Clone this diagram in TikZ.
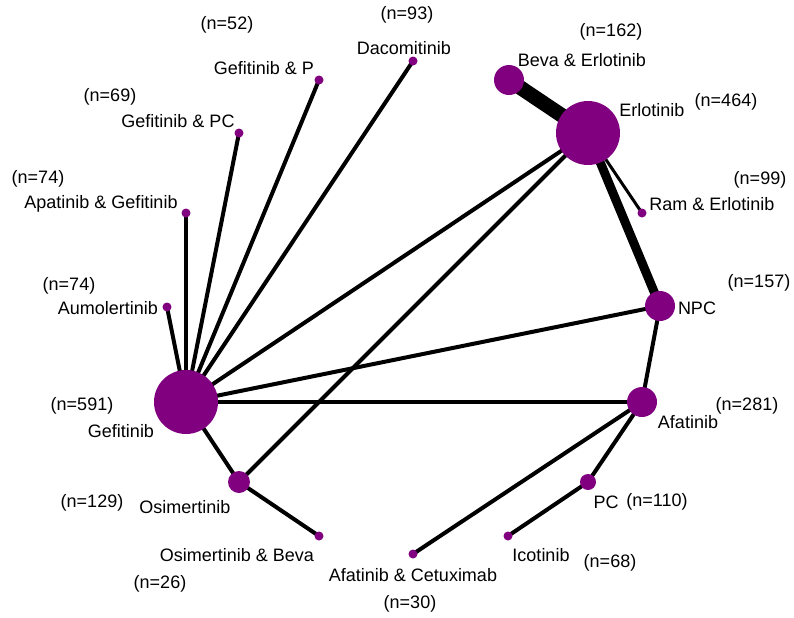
\documentclass[tikz,border=0pt]{standalone}
\usepackage{fontspec}
\setmainfont{Liberation Sans}
\usetikzlibrary{backgrounds}
\definecolor{netpurple}{RGB}{128,0,128}
\tikzset{
  drug/.style={circle,fill=netpurple,inner sep=0pt,minimum size=#1},
  drug/.default=6.75pt,
  lbl/.style={font=\fontsize{13.5}{16}\selectfont,inner sep=0pt},
  link/.style={line width=#1},
  link/.default=3pt
}

\begin{document}
\begin{tikzpicture}[x=0.75pt,y=-0.75pt]
\useasboundingbox (0,0) rectangle (794,618);
% treatments
\node[drug=48pt] (gef) at (186,402) {};
\node[drug=48pt] (erl) at (588,133) {};
\node[drug=22.5pt] (beva) at (509,80) {};
\node[drug=22.5pt] (npc) at (660,306) {};
\node[drug=22.5pt] (afa) at (642,402) {};
\node[drug=16.5pt] (osi) at (239,482) {};
\node[drug=12pt] (pc) at (588,482) {};
\node[drug] (ram) at (642,213) {};
\node[drug] (dac) at (413,61) {};
\node[drug] (gefp) at (319,80) {};
\node[drug] (gefpc) at (239,133) {};
\node[drug] (apa) at (186,213) {};
\node[drug] (aum) at (167,307) {};
\node[drug] (osibeva) at (319,536) {};
\node[drug] (afacet) at (413,554) {};
\node[drug] (ico) at (508,536) {};
% comparisons
\begin{pgfonlayer}{background}
\draw[link] (gef.center)--(aum.center);
\draw[link] (gef.center)--(apa.center);
\draw[link] (gef.center)--(gefpc.center);
\draw[link] (gef.center)--(gefp.center);
\draw[link] (gef.center)--(dac.center);
\draw[link] (gef.center)--(erl.center);
\draw[link] (gef.center)--(npc.center);
\draw[link] (gef.center)--(afa.center);
\draw[link] (gef.center)--(osi.center);
\draw[link] (osi.center)--(osibeva.center);
\draw[link] (osi.center)--(erl.center);
\draw[link=11pt] (erl.center)--(beva.center);
\draw[link=6.75pt] (erl.center)--(npc.center);
\draw[link=2.25pt] (erl.center)--(ram.center);
\draw[link] (npc.center)--(afa.center);
\draw[link] (afa.center)--(pc.center);
\draw[link] (afa.center)--(afacet.center);
\draw[link] (pc.center)--(ico.center);
\end{pgfonlayer}
% labels
\node[lbl] (gefl) at (121,431) {Gefitinib};
\node[lbl] (gefn) at (82,406) {(n=591)};
\node[lbl] (erll) at (652,110) {Erlotinib};
\node[lbl] (erln) at (726,102) {(n=464)};
\node[lbl] (beval) at (582,60) {Beva \& Erlotinib};
\node[lbl] (bevan) at (611,32) {(n=162)};
\node[lbl] (raml) at (712,204) {Ram \& Erlotinib};
\node[lbl] (ramn) at (760,180) {(n=99)};
\node[lbl] (npcl) at (697,308) {NPC};
\node[lbl] (npcn) at (759,283) {(n=157)};
\node[lbl] (afal) at (688,422) {Afatinib};
\node[lbl] (afan) at (747,406) {(n=281)};
\node[lbl] (pcl) at (606,502) {PC};
\node[lbl] (pcn) at (657,502) {(n=110)};
\node[lbl] (icol) at (541,555) {Icotinib};
\node[lbl] (icon) at (610,563) {(n=68)};
\node[lbl] (afacetl) at (413,575) {Afatinib \& Cetuximab};
\node[lbl] (afacetn) at (410,604) {(n=30)};
\node[lbl] (osibeval) at (237,555) {Osimertinib \& Beva};
\node[lbl] (osibevan) at (160,584) {(n=26)};
\node[lbl] (osil) at (185,507) {Osimertinib};
\node[lbl] (osin) at (92,503) {(n=129)};
\node[lbl] (auml) at (108,308) {Aumolertinib};
\node[lbl] (aumn) at (69,286) {(n=74)};
\node[lbl] (apal) at (101,204) {Apatinib \& Gefitinib};
\node[lbl] (apan) at (38,179) {(n=74)};
\node[lbl] (gefpcl) at (178,121) {Gefitinib \& PC};
\node[lbl] (gefpcn) at (110,97) {(n=69)};
\node[lbl] (gefpl) at (264,68) {Gefitinib \& P};
\node[lbl] (gefpn) at (227,25) {(n=52)};
\node[lbl] (dacl) at (404,48) {Dacomitinib};
\node[lbl] (dacn) at (407,15) {(n=93)};
\end{tikzpicture}
\end{document}
